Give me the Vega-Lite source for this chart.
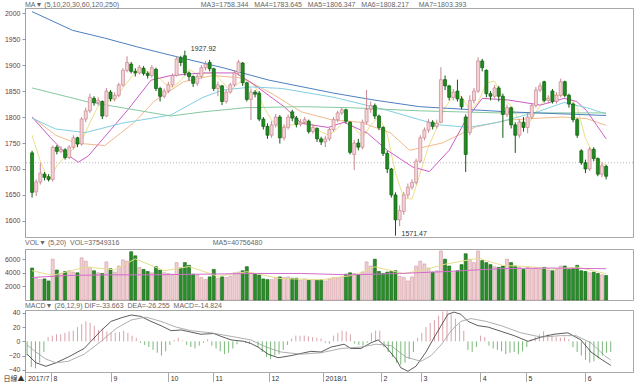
{
"$schema":"https://vega.github.io/schema/vega-lite/v6.json",
"background":"white",
"padding":{"left":0,"top":0,"right":8,"bottom":0},
"spacing":0,
"resolve":{"scale":{"color":"independent"}},
"config":{"view":{"stroke":"#a8a8a8","strokeWidth":1},"font":"Liberation Sans",
"title":{"fontSize":7,"font":"Liberation Sans","fontWeight":"normal","anchor":"start","color":"#666","offset":0,"frame":"group"},
"axis":{"labelFont":"Liberation Sans","labelFontSize":7,"grid":false,"labelOverlap":false},
"axisY":{"labelOverlap":false,"labelColor":"#7a3535","tickSize":3,"tickColor":"#999999","domainColor":"#999999","domainDash":[1,1],"minExtent":24,"maxExtent":24,"labelPadding":2}},
"datasets":{
"k":[
{"i":0,"o":1731,"h":1735,"l":1645,"c":1655,"v":4700,"m":-20},
{"i":1,"o":1656,"h":1680,"l":1648,"c":1675,"v":3200,"m":-36},
{"i":2,"o":1675,"h":1712,"l":1670,"c":1692,"v":3000,"m":-38},
{"i":3,"o":1690,"h":1694,"l":1678,"c":1684,"v":3100,"m":-30},
{"i":4,"o":1685,"h":1690,"l":1676,"c":1680,"v":2800,"m":-15},
{"i":5,"o":1680,"h":1745,"l":1676,"c":1742,"v":6000,"m":6},
{"i":6,"o":1742,"h":1746,"l":1728,"c":1734,"v":4400,"m":8},
{"i":7,"o":1734,"h":1744,"l":1730,"c":1738,"v":3900,"m":10},
{"i":8,"o":1737,"h":1740,"l":1718,"c":1722,"v":4200,"m":10},
{"i":9,"o":1722,"h":1746,"l":1719,"c":1742,"v":4300,"m":12},
{"i":10,"o":1742,"h":1765,"l":1738,"c":1760,"v":4100,"m":14},
{"i":11,"o":1760,"h":1762,"l":1742,"c":1748,"v":4000,"m":15},
{"i":12,"o":1748,"h":1800,"l":1745,"c":1796,"v":6200,"m":20},
{"i":13,"o":1796,"h":1818,"l":1790,"c":1812,"v":5700,"m":24},
{"i":14,"o":1812,"h":1845,"l":1808,"c":1838,"v":4800,"m":28},
{"i":15,"o":1836,"h":1840,"l":1822,"c":1828,"v":4300,"m":26},
{"i":16,"o":1828,"h":1838,"l":1822,"c":1832,"v":4000,"m":22},
{"i":17,"o":1830,"h":1832,"l":1796,"c":1802,"v":3900,"m":16},
{"i":18,"o":1802,"h":1856,"l":1800,"c":1850,"v":5600,"m":18},
{"i":19,"o":1848,"h":1852,"l":1830,"c":1835,"v":4600,"m":14},
{"i":20,"o":1835,"h":1848,"l":1830,"c":1842,"v":4100,"m":12},
{"i":21,"o":1842,"h":1866,"l":1838,"c":1862,"v":5000,"m":12},
{"i":22,"o":1862,"h":1894,"l":1858,"c":1890,"v":5900,"m":13},
{"i":23,"o":1890,"h":1917,"l":1886,"c":1905,"v":5700,"m":15},
{"i":24,"o":1902,"h":1906,"l":1884,"c":1888,"v":7100,"m":12},
{"i":25,"o":1888,"h":1894,"l":1878,"c":1885,"v":6500,"m":8},
{"i":26,"o":1885,"h":1900,"l":1882,"c":1896,"v":4800,"m":5},
{"i":27,"o":1894,"h":1898,"l":1880,"c":1884,"v":4500,"m":-2},
{"i":28,"o":1884,"h":1888,"l":1874,"c":1880,"v":4200,"m":-5},
{"i":29,"o":1880,"h":1900,"l":1876,"c":1895,"v":4000,"m":-8},
{"i":30,"o":1892,"h":1895,"l":1850,"c":1855,"v":4900,"m":-12},
{"i":31,"o":1855,"h":1858,"l":1830,"c":1840,"v":4400,"m":-16},
{"i":32,"o":1840,"h":1855,"l":1836,"c":1850,"v":4000,"m":-20},
{"i":33,"o":1850,"h":1868,"l":1846,"c":1862,"v":3900,"m":-14},
{"i":34,"o":1862,"h":1884,"l":1858,"c":1880,"v":3800,"m":-5},
{"i":35,"o":1880,"h":1916,"l":1878,"c":1912,"v":5500,"m":2},
{"i":36,"o":1914,"h":1918,"l":1898,"c":1905,"v":4700,"m":5},
{"i":37,"o":1918,"h":1927.92,"l":1880,"c":1885,"v":5500,"m":1},
{"i":38,"o":1885,"h":1888,"l":1870,"c":1878,"v":5100,"m":-5},
{"i":39,"o":1878,"h":1880,"l":1858,"c":1865,"v":3800,"m":-8},
{"i":40,"o":1865,"h":1882,"l":1860,"c":1878,"v":3700,"m":-10},
{"i":41,"o":1878,"h":1900,"l":1874,"c":1895,"v":3300,"m":-6},
{"i":42,"o":1895,"h":1908,"l":1890,"c":1902,"v":3000,"m":-2},
{"i":43,"o":1905,"h":1910,"l":1888,"c":1893,"v":3400,"m":3},
{"i":44,"o":1893,"h":1895,"l":1850,"c":1855,"v":4500,"m":-6},
{"i":45,"o":1855,"h":1868,"l":1840,"c":1862,"v":3200,"m":-10},
{"i":46,"o":1860,"h":1862,"l":1823,"c":1830,"v":3400,"m":-14},
{"i":47,"o":1830,"h":1852,"l":1826,"c":1848,"v":3300,"m":-18},
{"i":48,"o":1848,"h":1866,"l":1845,"c":1862,"v":3500,"m":-16},
{"i":49,"o":1862,"h":1890,"l":1858,"c":1885,"v":4000,"m":-10},
{"i":50,"o":1885,"h":1910,"l":1880,"c":1906,"v":4100,"m":-4},
{"i":51,"o":1904,"h":1906,"l":1860,"c":1866,"v":4300,"m":0.5},
{"i":52,"o":1866,"h":1868,"l":1830,"c":1834,"v":4900,"m":-2},
{"i":53,"o":1834,"h":1855,"l":1794,"c":1848,"v":4000,"m":-3},
{"i":54,"o":1848,"h":1852,"l":1838,"c":1844,"v":3800,"m":-1},
{"i":55,"o":1846,"h":1850,"l":1792,"c":1796,"v":3700,"m":-8},
{"i":56,"o":1796,"h":1800,"l":1776,"c":1782,"v":3100,"m":-15},
{"i":57,"o":1782,"h":1788,"l":1758,"c":1765,"v":3000,"m":-22},
{"i":58,"o":1765,"h":1792,"l":1760,"c":1785,"v":3000,"m":-25},
{"i":59,"o":1785,"h":1806,"l":1780,"c":1800,"v":3300,"m":-20},
{"i":60,"o":1800,"h":1804,"l":1749,"c":1760,"v":3400,"m":-18},
{"i":61,"o":1760,"h":1786,"l":1755,"c":1780,"v":3300,"m":-12},
{"i":62,"o":1780,"h":1805,"l":1776,"c":1800,"v":3400,"m":-5},
{"i":63,"o":1810,"h":1814,"l":1792,"c":1798,"v":3200,"m":4},
{"i":64,"o":1798,"h":1802,"l":1780,"c":1786,"v":3200,"m":8},
{"i":65,"o":1786,"h":1796,"l":1782,"c":1790,"v":2900,"m":8},
{"i":66,"o":1790,"h":1800,"l":1786,"c":1795,"v":3100,"m":8},
{"i":67,"o":1792,"h":1795,"l":1768,"c":1772,"v":2900,"m":7},
{"i":68,"o":1772,"h":1786,"l":1768,"c":1780,"v":3000,"m":6},
{"i":69,"o":1778,"h":1780,"l":1752,"c":1758,"v":2900,"m":5},
{"i":70,"o":1758,"h":1762,"l":1746,"c":1752,"v":3000,"m":4},
{"i":71,"o":1752,"h":1764,"l":1742,"c":1758,"v":2800,"m":-2},
{"i":72,"o":1758,"h":1780,"l":1754,"c":1776,"v":3100,"m":-3},
{"i":73,"o":1776,"h":1800,"l":1772,"c":1795,"v":3300,"m":8},
{"i":74,"o":1795,"h":1812,"l":1790,"c":1808,"v":3200,"m":12},
{"i":75,"o":1808,"h":1818,"l":1804,"c":1814,"v":3400,"m":15},
{"i":76,"o":1814,"h":1816,"l":1788,"c":1792,"v":3800,"m":14},
{"i":77,"o":1790,"h":1792,"l":1728,"c":1732,"v":4000,"m":10},
{"i":78,"o":1728,"h":1756,"l":1698,"c":1750,"v":3900,"m":-3},
{"i":79,"o":1750,"h":1758,"l":1736,"c":1742,"v":3700,"m":-5},
{"i":80,"o":1742,"h":1795,"l":1738,"c":1790,"v":4100,"m":-6},
{"i":81,"o":1790,"h":1852,"l":1786,"c":1815,"v":5600,"m":-2},
{"i":82,"o":1815,"h":1830,"l":1808,"c":1822,"v":5000,"m":12},
{"i":83,"o":1822,"h":1826,"l":1796,"c":1802,"v":6000,"m":15},
{"i":84,"o":1802,"h":1805,"l":1775,"c":1780,"v":4200,"m":15},
{"i":85,"o":1780,"h":1782,"l":1725,"c":1730,"v":3900,"m":-8},
{"i":86,"o":1730,"h":1735,"l":1692,"c":1700,"v":4100,"m":-15},
{"i":87,"o":1700,"h":1702,"l":1645,"c":1650,"v":4200,"m":-22},
{"i":88,"o":1650,"h":1655,"l":1571.47,"c":1602,"v":4300,"m":-30},
{"i":89,"o":1602,"h":1630,"l":1590,"c":1620,"v":3500,"m":-33},
{"i":90,"o":1618,"h":1656,"l":1612,"c":1650,"v":3300,"m":-30},
{"i":91,"o":1650,"h":1672,"l":1644,"c":1665,"v":2800,"m":-25},
{"i":92,"o":1665,"h":1680,"l":1660,"c":1674,"v":3400,"m":-15},
{"i":93,"o":1674,"h":1720,"l":1670,"c":1715,"v":5000,"m":5},
{"i":94,"o":1715,"h":1765,"l":1712,"c":1760,"v":5700,"m":12},
{"i":95,"o":1760,"h":1780,"l":1755,"c":1775,"v":5300,"m":20},
{"i":96,"o":1775,"h":1796,"l":1770,"c":1790,"v":4700,"m":26},
{"i":97,"o":1790,"h":1794,"l":1776,"c":1782,"v":4100,"m":30},
{"i":98,"o":1782,"h":1795,"l":1778,"c":1788,"v":4300,"m":36},
{"i":99,"o":1790,"h":1896,"l":1788,"c":1872,"v":7200,"m":42},
{"i":100,"o":1872,"h":1880,"l":1852,"c":1860,"v":6000,"m":44},
{"i":101,"o":1860,"h":1862,"l":1832,"c":1838,"v":5000,"m":38},
{"i":102,"o":1838,"h":1854,"l":1832,"c":1848,"v":4000,"m":32},
{"i":103,"o":1850,"h":1872,"l":1830,"c":1835,"v":4300,"m":25},
{"i":104,"o":1835,"h":1840,"l":1815,"c":1820,"v":5200,"m":15},
{"i":105,"o":1800,"h":1805,"l":1694,"c":1728,"v":6800,"m":-12},
{"i":106,"o":1770,"h":1842,"l":1765,"c":1832,"v":6000,"m":-15},
{"i":107,"o":1832,"h":1856,"l":1826,"c":1850,"v":5500,"m":-8},
{"i":108,"o":1850,"h":1915,"l":1846,"c":1908,"v":7200,"m":8},
{"i":109,"o":1908,"h":1912,"l":1888,"c":1895,"v":5800,"m":6},
{"i":110,"o":1890,"h":1892,"l":1838,"c":1845,"v":5500,"m":-6},
{"i":111,"o":1845,"h":1850,"l":1832,"c":1840,"v":5200,"m":-10},
{"i":112,"o":1840,"h":1862,"l":1836,"c":1856,"v":4900,"m":-12},
{"i":113,"o":1856,"h":1860,"l":1830,"c":1840,"v":4800,"m":-14},
{"i":114,"o":1840,"h":1845,"l":1760,"c":1805,"v":5000,"m":-18},
{"i":115,"o":1805,"h":1824,"l":1800,"c":1818,"v":6000,"m":-16},
{"i":116,"o":1818,"h":1820,"l":1778,"c":1785,"v":5500,"m":-15},
{"i":117,"o":1785,"h":1790,"l":1731,"c":1765,"v":5000,"m":-18},
{"i":118,"o":1765,"h":1796,"l":1760,"c":1790,"v":4800,"m":-14},
{"i":119,"o":1790,"h":1800,"l":1772,"c":1780,"v":4500,"m":-8},
{"i":120,"o":1780,"h":1808,"l":1769,"c":1800,"v":4800,"m":3},
{"i":121,"o":1800,"h":1826,"l":1796,"c":1822,"v":4600,"m":6},
{"i":122,"o":1822,"h":1858,"l":1818,"c":1852,"v":4700,"m":10},
{"i":123,"o":1852,"h":1866,"l":1848,"c":1860,"v":4500,"m":14},
{"i":124,"o":1868,"h":1870,"l":1828,"c":1832,"v":4800,"m":10},
{"i":125,"o":1832,"h":1842,"l":1826,"c":1836,"v":4400,"m":8},
{"i":126,"o":1850,"h":1854,"l":1826,"c":1830,"v":4300,"m":6},
{"i":127,"o":1830,"h":1848,"l":1826,"c":1842,"v":4500,"m":5},
{"i":128,"o":1842,"h":1874,"l":1838,"c":1868,"v":5000,"m":6},
{"i":129,"o":1868,"h":1870,"l":1838,"c":1842,"v":5000,"m":3},
{"i":130,"o":1842,"h":1845,"l":1818,"c":1825,"v":4500,"m":-8},
{"i":131,"o":1825,"h":1828,"l":1790,"c":1795,"v":4600,"m":-15},
{"i":132,"o":1795,"h":1798,"l":1760,"c":1765,"v":5100,"m":-20},
{"i":133,"o":1735,"h":1738,"l":1708,"c":1712,"v":4300,"m":-26},
{"i":134,"o":1712,"h":1718,"l":1692,"c":1700,"v":4200,"m":-30},
{"i":135,"o":1700,"h":1742,"l":1696,"c":1738,"v":4000,"m":-28},
{"i":136,"o":1738,"h":1742,"l":1715,"c":1720,"v":4100,"m":-24},
{"i":137,"o":1720,"h":1722,"l":1686,"c":1690,"v":3900,"m":-20},
{"i":138,"o":1690,"h":1712,"l":1684,"c":1706,"v":3700,"m":-16},
{"i":139,"o":1705,"h":1708,"l":1680,"c":1686,"v":3600,"m":-14.824}
],
"ma":[
{"s":"y","i":0,"v":1765},{"s":"y","i":2,"v":1715},{"s":"y","i":4,"v":1677},{"s":"y","i":6,"v":1706},{"s":"y","i":8,"v":1724},{"s":"y","i":10,"v":1739},{"s":"y","i":12,"v":1754},{"s":"y","i":14,"v":1789},{"s":"y","i":16,"v":1821},{"s":"y","i":18,"v":1830},{"s":"y","i":20,"v":1834},{"s":"y","i":22,"v":1856},{"s":"y","i":24,"v":1877},{"s":"y","i":26,"v":1895},{"s":"y","i":28,"v":1887},{"s":"y","i":30,"v":1882},{"s":"y","i":32,"v":1865},{"s":"y","i":34,"v":1857},{"s":"y","i":36,"v":1870},{"s":"y","i":38,"v":1892},{"s":"y","i":40,"v":1882},{"s":"y","i":42,"v":1884},{"s":"y","i":44,"v":1885},{"s":"y","i":46,"v":1868},{"s":"y","i":48,"v":1851},{"s":"y","i":50,"v":1866},{"s":"y","i":52,"v":1871},{"s":"y","i":54,"v":1860},{"s":"y","i":56,"v":1821},{"s":"y","i":58,"v":1794},{"s":"y","i":60,"v":1778},{"s":"y","i":62,"v":1785},{"s":"y","i":64,"v":1785},{"s":"y","i":66,"v":1790},{"s":"y","i":68,"v":1785},{"s":"y","i":70,"v":1771},{"s":"y","i":72,"v":1765},{"s":"y","i":74,"v":1778},{"s":"y","i":76,"v":1797},{"s":"y","i":78,"v":1779},{"s":"y","i":80,"v":1761},{"s":"y","i":82,"v":1784},{"s":"y","i":84,"v":1802},{"s":"y","i":86,"v":1767},{"s":"y","i":88,"v":1692},{"s":"y","i":90,"v":1644},{"s":"y","i":92,"v":1642},{"s":"y","i":94,"v":1693},{"s":"y","i":96,"v":1743},{"s":"y","i":98,"v":1779},{"s":"y","i":100,"v":1818},{"s":"y","i":102,"v":1841},{"s":"y","i":104,"v":1840},{"s":"y","i":106,"v":1813},{"s":"y","i":108,"v":1828},{"s":"y","i":110,"v":1866},{"s":"y","i":112,"v":1869},{"s":"y","i":114,"v":1837},{"s":"y","i":116,"v":1821},{"s":"y","i":118,"v":1793},{"s":"y","i":120,"v":1784},{"s":"y","i":122,"v":1809},{"s":"y","i":124,"v":1833},{"s":"y","i":126,"v":1842},{"s":"y","i":128,"v":1842},{"s":"y","i":130,"v":1841},{"s":"y","i":132,"v":1819},{"s":"y","i":134,"v":1759},{"s":"y","i":136,"v":1727},{"s":"y","i":138,"v":1711},{"s":"y","i":139,"v":1708},
{"s":"o","i":0,"v":1800},{"s":"o","i":5.7,"v":1765},{"s":"o","i":10.5,"v":1750},{"s":"o","i":17.6,"v":1745},{"s":"o","i":24.8,"v":1790},{"s":"o","i":29.5,"v":1830},{"s":"o","i":36.7,"v":1868},{"s":"o","i":43.8,"v":1880},{"s":"o","i":51,"v":1875},{"s":"o","i":58.1,"v":1845},{"s":"o","i":65.2,"v":1810},{"s":"o","i":72.4,"v":1795},{"s":"o","i":79.5,"v":1790},{"s":"o","i":86.7,"v":1770},{"s":"o","i":91.4,"v":1736},{"s":"o","i":99.3,"v":1750},{"s":"o","i":107.4,"v":1781},{"s":"o","i":115.2,"v":1794},{"s":"o","i":123.1,"v":1798},{"s":"o","i":128.8,"v":1800},{"s":"o","i":134.3,"v":1797},{"s":"o","i":139,"v":1784},
{"s":"m","i":0,"v":1800},{"s":"m","i":4.5,"v":1760},{"s":"m","i":8.1,"v":1730},{"s":"m","i":11.2,"v":1713},{"s":"m","i":13.6,"v":1725},{"s":"m","i":17.6,"v":1762},{"s":"m","i":23.1,"v":1813},{"s":"m","i":28.8,"v":1871},{"s":"m","i":33.6,"v":1880},{"s":"m","i":41.4,"v":1885},{"s":"m","i":49.3,"v":1885},{"s":"m","i":53.3,"v":1865},{"s":"m","i":61.2,"v":1819},{"s":"m","i":65.2,"v":1788},{"s":"m","i":71.7,"v":1780},{"s":"m","i":75.5,"v":1790},{"s":"m","i":81.2,"v":1769},{"s":"m","i":86,"v":1736},{"s":"m","i":92.1,"v":1704},{"s":"m","i":96.2,"v":1695},{"s":"m","i":101,"v":1736},{"s":"m","i":105,"v":1794},{"s":"m","i":109,"v":1836},{"s":"m","i":115.2,"v":1833},{"s":"m","i":123.1,"v":1823},{"s":"m","i":128.8,"v":1836},{"s":"m","i":131.9,"v":1830},{"s":"m","i":134.3,"v":1812},{"s":"m","i":139,"v":1758},
{"s":"c","i":0,"v":1798},{"s":"c","i":5.7,"v":1777},{"s":"c","i":12.9,"v":1770},{"s":"c","i":21.7,"v":1788},{"s":"c","i":33.6,"v":1804},{"s":"c","i":41.4,"v":1838},{"s":"c","i":46.2,"v":1852},{"s":"c","i":53.3,"v":1858},{"s":"c","i":60.5,"v":1855},{"s":"c","i":73.1,"v":1838},{"s":"c","i":86,"v":1813},{"s":"c","i":93.8,"v":1795},{"s":"c","i":98.6,"v":1785},{"s":"c","i":105.7,"v":1780},{"s":"c","i":112.9,"v":1790},{"s":"c","i":122.4,"v":1810},{"s":"c","i":128.8,"v":1828},{"s":"c","i":134.3,"v":1818},{"s":"c","i":139,"v":1806},
{"s":"g","i":0,"v":1856},{"s":"g","i":13.6,"v":1829},{"s":"g","i":25.5,"v":1813},{"s":"g","i":33.6,"v":1802},{"s":"g","i":41.4,"v":1810},{"s":"g","i":51.7,"v":1818},{"s":"g","i":65.2,"v":1820},{"s":"g","i":77.1,"v":1818},{"s":"g","i":93.8,"v":1812},{"s":"g","i":112.9,"v":1808},{"s":"g","i":139,"v":1808},
{"s":"b","i":0,"v":2003},{"s":"b","i":9.8,"v":1967},{"s":"b","i":17.6,"v":1952},{"s":"b","i":25.5,"v":1935},{"s":"b","i":33.6,"v":1919},{"s":"b","i":41.4,"v":1904},{"s":"b","i":46.2,"v":1895},{"s":"b","i":57.4,"v":1871},{"s":"b","i":73.1,"v":1846},{"s":"b","i":82.6,"v":1833},{"s":"b","i":93.8,"v":1820},{"s":"b","i":115.2,"v":1810},{"s":"b","i":139,"v":1803}
],
"vma":[
{"s":"y","i":0,"v":4300},{"s":"y","i":5,"v":3620},{"s":"y","i":13,"v":4860},{"s":"y","i":20,"v":4440},{"s":"y","i":25,"v":6040},{"s":"y","i":32,"v":4300},{"s":"y","i":38,"v":4920},{"s":"y","i":45,"v":3480},{"s":"y","i":52,"v":4160},{"s":"y","i":60,"v":3160},{"s":"y","i":70,"v":2980},{"s":"y","i":78,"v":3660},{"s":"y","i":83,"v":4880},{"s":"y","i":90,"v":3880},{"s":"y","i":95,"v":4440},{"s":"y","i":100,"v":5260},{"s":"y","i":108,"v":6140},{"s":"y","i":114,"v":5080},{"s":"y","i":120,"v":4920},{"s":"y","i":126,"v":4540},{"s":"y","i":132,"v":4840},{"s":"y","i":139,"v":3860},
{"s":"p","i":0,"v":3300},{"s":"p","i":8.1,"v":3600},{"s":"p","i":17.6,"v":3700},{"s":"p","i":29.5,"v":3700},{"s":"p","i":41.4,"v":3800},{"s":"p","i":53.3,"v":3900},{"s":"p","i":65.2,"v":3900},{"s":"p","i":77.1,"v":3700},{"s":"p","i":89,"v":3900},{"s":"p","i":101,"v":4200},{"s":"p","i":112.9,"v":4600},{"s":"p","i":125.5,"v":4700},{"s":"p","i":139,"v":4600}
],
"dif":[
{"s":"DIF","i":0,"v":-18},{"s":"DIF","i":2.1,"v":-30},{"s":"DIF","i":4.5,"v":-35},{"s":"DIF","i":6.9,"v":-30},{"s":"DIF","i":9.8,"v":-22},{"s":"DIF","i":13.6,"v":-10},{"s":"DIF","i":15.2,"v":0},{"s":"DIF","i":17.6,"v":15},{"s":"DIF","i":20,"v":28},{"s":"DIF","i":22.4,"v":33},{"s":"DIF","i":24.8,"v":37},{"s":"DIF","i":27.1,"v":35},{"s":"DIF","i":29.5,"v":28},{"s":"DIF","i":31.9,"v":22},{"s":"DIF","i":34.3,"v":15},{"s":"DIF","i":36.7,"v":16},{"s":"DIF","i":39,"v":13},{"s":"DIF","i":41.4,"v":10},{"s":"DIF","i":44.5,"v":11},{"s":"DIF","i":46.2,"v":7},{"s":"DIF","i":48.6,"v":2},{"s":"DIF","i":51.7,"v":0},{"s":"DIF","i":53.3,"v":-3},{"s":"DIF","i":55,"v":-8},{"s":"DIF","i":57.4,"v":-18},{"s":"DIF","i":59.8,"v":-23},{"s":"DIF","i":62.9,"v":-20},{"s":"DIF","i":65.2,"v":-17},{"s":"DIF","i":67.6,"v":-14},{"s":"DIF","i":70,"v":-15},{"s":"DIF","i":72.4,"v":-8},{"s":"DIF","i":75.5,"v":-4},{"s":"DIF","i":77.1,"v":-10},{"s":"DIF","i":79.5,"v":-10},{"s":"DIF","i":81.9,"v":-2},{"s":"DIF","i":83.6,"v":2},{"s":"DIF","i":85.5,"v":-8},{"s":"DIF","i":87.9,"v":-25},{"s":"DIF","i":89,"v":-37},{"s":"DIF","i":90.7,"v":-42},{"s":"DIF","i":92.6,"v":-35},{"s":"DIF","i":95,"v":-15},{"s":"DIF","i":96.9,"v":5},{"s":"DIF","i":98.6,"v":22},{"s":"DIF","i":100.2,"v":38},{"s":"DIF","i":101.7,"v":41},{"s":"DIF","i":103.3,"v":38},{"s":"DIF","i":105,"v":28},{"s":"DIF","i":107.4,"v":22},{"s":"DIF","i":109.8,"v":20},{"s":"DIF","i":112.9,"v":14},{"s":"DIF","i":116,"v":8},{"s":"DIF","i":119.3,"v":0},{"s":"DIF","i":122.4,"v":6},{"s":"DIF","i":125.5,"v":10},{"s":"DIF","i":128.8,"v":12},{"s":"DIF","i":131.9,"v":2},{"s":"DIF","i":134.3,"v":-15},{"s":"DIF","i":136.7,"v":-25},{"s":"DIF","i":139,"v":-33.663},
{"s":"DEA","i":0,"v":-5},{"s":"DEA","i":2.1,"v":-15},{"s":"DEA","i":4.5,"v":-25},{"s":"DEA","i":6.9,"v":-30},{"s":"DEA","i":9.8,"v":-28},{"s":"DEA","i":13.6,"v":-18},{"s":"DEA","i":17.6,"v":0},{"s":"DEA","i":21.2,"v":18},{"s":"DEA","i":24.8,"v":30},{"s":"DEA","i":28.3,"v":34},{"s":"DEA","i":31.9,"v":28},{"s":"DEA","i":35.5,"v":20},{"s":"DEA","i":39,"v":15},{"s":"DEA","i":43.8,"v":12},{"s":"DEA","i":48.6,"v":7},{"s":"DEA","i":53.3,"v":2},{"s":"DEA","i":56.9,"v":-8},{"s":"DEA","i":60.5,"v":-15},{"s":"DEA","i":65.2,"v":-18},{"s":"DEA","i":70,"v":-16},{"s":"DEA","i":74.8,"v":-10},{"s":"DEA","i":79.5,"v":-8},{"s":"DEA","i":83.1,"v":-4},{"s":"DEA","i":86.7,"v":-6},{"s":"DEA","i":90.2,"v":-22},{"s":"DEA","i":93.8,"v":-28},{"s":"DEA","i":96.2,"v":-20},{"s":"DEA","i":98.6,"v":-5},{"s":"DEA","i":101,"v":15},{"s":"DEA","i":103.3,"v":28},{"s":"DEA","i":105.7,"v":32},{"s":"DEA","i":109.3,"v":28},{"s":"DEA","i":112.9,"v":22},{"s":"DEA","i":117.6,"v":12},{"s":"DEA","i":122.4,"v":6},{"s":"DEA","i":127.1,"v":8},{"s":"DEA","i":130.7,"v":8},{"s":"DEA","i":134.3,"v":-2},{"s":"DEA","i":137.5,"v":-20},{"s":"DEA","i":139,"v":-26.255}
],
"ann":[{"i":37,"p":1927.92,"t":"1927.92"},{"i":88,"p":1571.47,"t":"1571.47"}],
"ref":[{"p":1712}]
},
"vconcat":[
{
"width":608,"height":229,
"title":{"text":"MA▼ (5,10,20,30,60,120,250)\u00a0\u00a0\u00a0\u00a0\u00a0\u00a0\u00a0\u00a0\u00a0\u00a0\u00a0\u00a0\u00a0\u00a0\u00a0\u00a0\u00a0\u00a0\u00a0\u00a0\u00a0\u00a0\u00a0\u00a0\u00a0\u00a0\u00a0\u00a0\u00a0\u00a0\u00a0\u00a0\u00a0\u00a0\u00a0\u00a0\u00a0\u00a0\u00a0\u00a0\u00a0\u00a0MA3=1758.344\u00a0\u00a0\u00a0MA4=1783.645\u00a0\u00a0\u00a0MA5=1806.347\u00a0\u00a0\u00a0MA6=1808.217\u00a0\u00a0\u00a0\u00a0\u00a0MA7=1803.393","offset":0},
"encoding":{
 "x":{"field":"i","type":"quantitative","scale":{"domain":[-0.5,144.3],"nice":false,"zero":false},"axis":null},
 "y":{"type":"quantitative","title":null,"scale":{"domain":[1569,2010],"nice":false,"zero":false},
  "axis":{"values":[1600,1650,1700,1750,1800,1850,1900,1950,2000],"format":"d","labelOverlap":false}}},
"layer":[
{"data":{"name":"ref"},"mark":{"type":"rule","color":"#bbbbbb","strokeDash":[1,2],"strokeWidth":1},
 "encoding":{"x":null,"y":{"field":"p","type":"quantitative","title":null,"scale":{"domain":[1569,2010],"nice":false,"zero":false},"axis":{"values":[1600,1650,1700,1750,1800,1850,1900,1950,2000],"format":"d","labelOverlap":false}}}},
{"data":{"name":"ma"},"mark":{"type":"line","strokeWidth":1,"clip":true},
 "encoding":{"y":{"field":"v","type":"quantitative","title":null,"scale":{"domain":[1569,2010],"nice":false,"zero":false},"axis":{"values":[1600,1650,1700,1750,1800,1850,1900,1950,2000],"format":"d","labelOverlap":false}},
 "color":{"field":"s","type":"nominal","legend":null,"scale":{"domain":["y","o","m","c","g","b"],"range":["#ebe08a","#f2b98e","#cc5cc4","#82cfe2","#85c9a0","#4d80c0"]}}}},
{"data":{"name":"k"},"mark":{"type":"rule","strokeWidth":1},
 "encoding":{"y":{"field":"l","type":"quantitative","title":null,"scale":{"domain":[1569,2010],"nice":false,"zero":false},"axis":{"values":[1600,1650,1700,1750,1800,1850,1900,1950,2000],"format":"d","labelOverlap":false}},"y2":{"field":"h"},
 "color":{"condition":{"test":"datum.c >= datum.o","value":"#c98790"},"value":"#0d5c0d"}}},
{"data":{"name":"k"},"mark":{"type":"bar","size":3,"strokeWidth":0.7},
 "encoding":{"y":{"field":"o","type":"quantitative","title":null,"scale":{"domain":[1569,2010],"nice":false,"zero":false},"axis":{"values":[1600,1650,1700,1750,1800,1850,1900,1950,2000],"format":"d","labelOverlap":false}},"y2":{"field":"c"},
 "fill":{"condition":{"test":"datum.c >= datum.o","value":"#f3d3d6"},"value":"#1f8c1f"},
 "stroke":{"condition":{"test":"datum.c >= datum.o","value":"#c98790"},"value":"#0d5c0d"}}},
{"data":{"name":"ann"},"mark":{"type":"text","align":"left","baseline":"middle","dx":6,"dy":-2,"fontSize":7,"color":"#333333"},
 "encoding":{"y":{"field":"p","type":"quantitative","title":null,"scale":{"domain":[1569,2010],"nice":false,"zero":false},"axis":{"values":[1600,1650,1700,1750,1800,1850,1900,1950,2000],"format":"d","labelOverlap":false}},"text":{"field":"t"}}}
]
},
{
"width":608,"height":51,
"title":{"text":"VOL▼ (5,20)\u00a0\u00a0VOL=37549316\u00a0\u00a0\u00a0\u00a0\u00a0\u00a0\u00a0\u00a0\u00a0\u00a0\u00a0\u00a0\u00a0\u00a0\u00a0\u00a0\u00a0\u00a0\u00a0\u00a0\u00a0\u00a0\u00a0\u00a0\u00a0\u00a0\u00a0\u00a0\u00a0\u00a0\u00a0\u00a0\u00a0\u00a0\u00a0\u00a0\u00a0\u00a0\u00a0\u00a0\u00a0\u00a0\u00a0\u00a0\u00a0\u00a0\u00a0\u00a0MA5=40756480","offset":3},
"layer":[
{"data":{"name":"k"},"mark":{"type":"bar","size":3,"strokeWidth":0.6},
 "encoding":{"x":{"field":"i","type":"quantitative","scale":{"domain":[-0.5,144.3],"nice":false,"zero":false},"axis":null},
 "y":{"field":"v","type":"quantitative","title":null,"scale":{"domain":[0,7500],"nice":false},"axis":{"values":[2000,4000,6000],"format":"d","labelOverlap":false}},
 "fill":{"condition":{"test":"datum.c >= datum.o","value":"#f2cfd3"},"value":"#2a8f2a"},
 "stroke":{"condition":{"test":"datum.c >= datum.o","value":"#cf9aa2"},"value":"#136013"}}},
{"data":{"name":"vma"},"mark":{"type":"line","strokeWidth":1,"clip":true},
 "encoding":{"x":{"field":"i","type":"quantitative","scale":{"domain":[-0.5,144.3],"nice":false,"zero":false},"axis":null},
 "y":{"field":"v","type":"quantitative","title":null,"scale":{"domain":[0,7500],"nice":false},"axis":{"values":[2000,4000,6000],"format":"d","labelOverlap":false}},
 "color":{"field":"s","type":"nominal","legend":null,"scale":{"domain":["y","p"],"range":["#e6df8a","#d46ccc"]}}}}
]
},
{
"width":608,"height":62,
"title":{"text":"MACD▼ (26,12,9)\u00a0DIF=-33.663\u00a0\u00a0DEA=-26.255\u00a0\u00a0MACD=-14.824","offset":0},
"layer":[
{"data":{"name":"k"},"mark":{"type":"rule","strokeWidth":1},
 "encoding":{"x":{"field":"i","type":"quantitative","title":"日線▲","scale":{"domain":[-0.5,144.3],"nice":false,"zero":false},
 "axis":{"values":[-0.4,5.7,20,33.6,44.3,57.6,70.5,84.3,93.8,107.9,118.8,132.9],
 "labelExpr":"datum.value < 1 ? '2017/7' : datum.value < 10 ? '8' : datum.value < 25 ? '9' : datum.value < 40 ? '10' : datum.value < 50 ? '11' : datum.value < 65 ? '12' : datum.value < 80 ? '2018/1' : datum.value < 90 ? '2' : datum.value < 100 ? '3' : datum.value < 115 ? '4' : datum.value < 125 ? '5' : '6'",
 "tickSize":11,"tickColor":"#aaaaaa","domainColor":"#aaaaaa","labelAlign":"left","labelBaseline":"top","labelPadding":-9,"labelOffset":2,"labelColor":"#333333","labelOverlap":false,"labelFlush":false,"labelBound":false,
 "titleFont":"Noto Sans CJK TC","titleFontSize":7,"titleFontWeight":"normal","titleColor":"#333333","titleAlign":"left","titleBaseline":"middle","titleX":-22,"titleY":6}},
 "y":{"field":"m","type":"quantitative","title":null,"scale":{"domain":[-43,44],"nice":false,"zero":false},"axis":{"values":[-40,-20,0,20,40],"labelOverlap":false}},
 "y2":{"datum":0},
 "color":{"condition":{"test":"datum.m >= 0","value":"#d9a3aa"},"value":"#7ab87a"}}},
{"data":{"name":"dif"},"mark":{"type":"line","strokeWidth":0.8,"clip":true},
 "encoding":{"x":{"field":"i","type":"quantitative","title":"日線▲","scale":{"domain":[-0.5,144.3],"nice":false,"zero":false}},
 "y":{"field":"v","type":"quantitative","title":null,"scale":{"domain":[-43,44],"nice":false,"zero":false},"axis":{"values":[-40,-20,0,20,40],"labelOverlap":false}},
 "color":{"field":"s","type":"nominal","legend":null,"scale":{"domain":["DIF","DEA"],"range":["#333333","#9a9a9a"]}}}}
]
}
]
}
